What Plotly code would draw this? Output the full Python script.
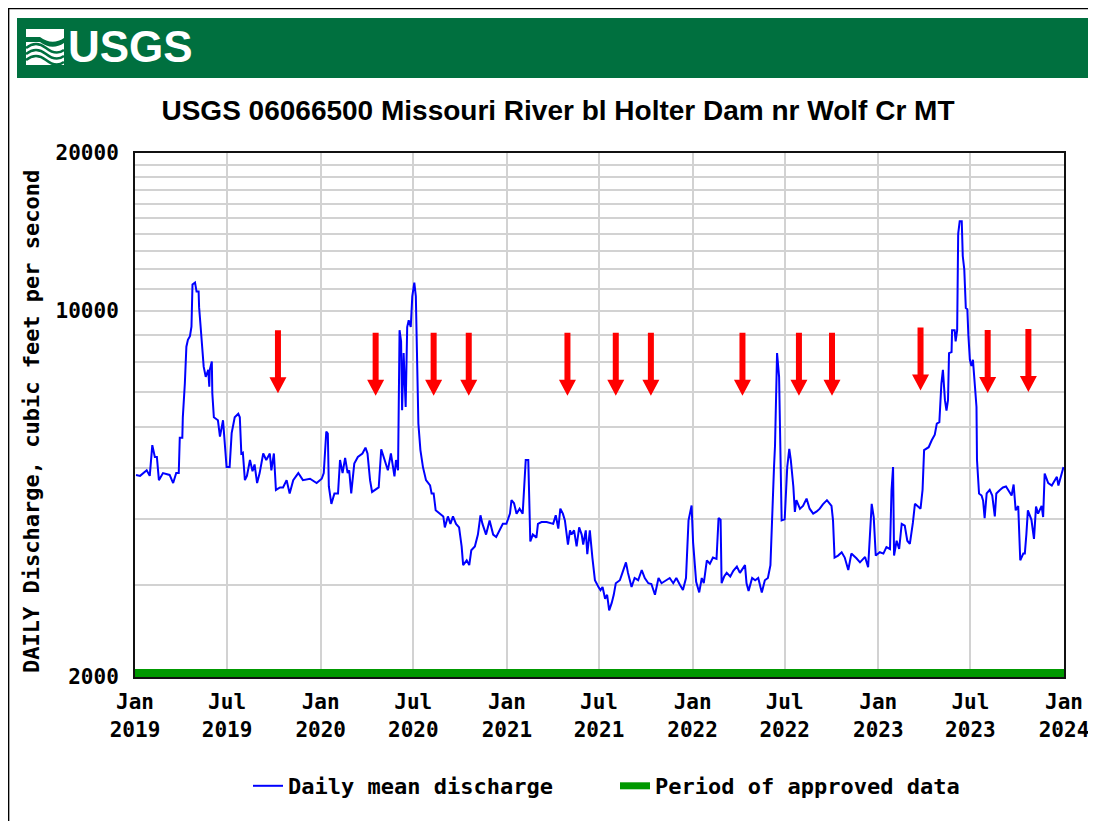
import plotly.graph_objects as go

# ---------------- data ----------------
dates_2019 = ["2019-01-03", "2019-01-11", "2019-01-24", "2019-01-30", "2019-02-04", "2019-02-09",
              "2019-02-13", "2019-02-17", "2019-02-25", "2019-03-10", "2019-03-17", "2019-03-23",
              "2019-03-28", "2019-03-30", "2019-04-04", "2019-04-05", "2019-04-09", "2019-04-12",
              "2019-04-15", "2019-04-19", "2019-04-22", "2019-04-24", "2019-04-29", "2019-05-02",
              "2019-05-06", "2019-05-07", "2019-05-10", "2019-05-13", "2019-05-16", "2019-05-20",
              "2019-05-25", "2019-05-27", "2019-05-28", "2019-06-01", "2019-06-02", "2019-06-05",
              "2019-06-13", "2019-06-17", "2019-06-23", "2019-06-30", "2019-07-06", "2019-07-10",
              "2019-07-16", "2019-07-23", "2019-07-26", "2019-07-29", "2019-08-01", "2019-08-05",
              "2019-08-09", "2019-08-15", "2019-08-20", "2019-08-24", "2019-08-29", "2019-09-03",
              "2019-09-10", "2019-09-16", "2019-09-23", "2019-09-26", "2019-10-01", "2019-10-05",
              "2019-10-13", "2019-10-19", "2019-10-26", "2019-11-01", "2019-11-08", "2019-11-18",
              "2019-11-27", "2019-12-11", "2019-12-24"]
flow_2019 = [4860, 4840, 4960, 4840, 5540, 5260,
             5260, 4750, 4900, 4860, 4690, 4900,
             4900, 5720, 5720, 6260, 7270, 8540,
             8800, 8940, 9320, 11220, 11320, 10880,
             10880, 10160, 9320, 8420, 7820, 7480,
             7710, 7160, 7710, 8000, 6950, 6260,
             6180, 5750, 6180, 5030, 5030, 5840,
             6260, 6360, 6260, 5340, 5360, 4750,
             4840, 5190, 4940, 5090, 4690, 4900,
             5340, 5190, 5340, 4960, 5340, 4550,
             4600, 4600, 4750, 4480, 4750, 4900,
             4750, 4780, 4690]

dates_2020 = ["2020-01-03", "2020-01-07", "2020-01-12", "2020-01-15", "2020-01-17", "2020-01-22",
              "2020-01-28", "2020-02-04", "2020-02-08", "2020-02-13", "2020-02-18", "2020-02-23",
              "2020-02-26", "2020-03-01", "2020-03-07", "2020-03-14", "2020-03-23", "2020-03-29",
              "2020-04-02", "2020-04-07", "2020-04-11", "2020-04-19", "2020-04-24", "2020-04-29",
              "2020-05-05", "2020-05-12", "2020-05-18", "2020-05-22", "2020-05-25", "2020-05-28",
              "2020-06-01", "2020-06-04", "2020-06-07", "2020-06-09", "2020-06-12", "2020-06-16",
              "2020-06-19", "2020-06-22", "2020-06-26", "2020-06-29", "2020-07-03", "2020-07-06",
              "2020-07-09", "2020-07-11", "2020-07-15", "2020-07-20", "2020-07-26", "2020-08-03",
              "2020-08-06", "2020-08-10", "2020-08-14", "2020-08-22", "2020-08-29", "2020-09-01",
              "2020-09-07", "2020-09-12", "2020-09-17", "2020-09-23", "2020-09-29", "2020-10-04",
              "2020-10-07", "2020-10-14", "2020-10-19", "2020-10-23", "2020-10-30", "2020-11-05",
              "2020-11-10", "2020-11-14", "2020-11-21", "2020-11-28", "2020-12-05", "2020-12-11",
              "2020-12-18", "2020-12-24", "2020-12-31"]
flow_2020 = [4780, 4900, 5880, 5830, 4620, 4280,
             4480, 4480, 5190, 4900, 5240, 4900,
             4960, 4480, 5110, 5260, 5340, 5480,
             5340, 4750, 4510, 4560, 4600, 5440,
             5190, 4960, 5340, 5030, 4830, 5190,
             4960, 9180, 8740, 6460, 8300, 6550,
             9310, 9590, 9310, 10650, 11320, 10650,
             7590, 6090, 5420, 5030, 4750, 4640,
             4480, 4480, 4160, 4100, 4050, 3860,
             4050, 3920, 4050, 3920, 3860, 3550,
             3270, 3340, 3270, 3490, 3550, 3740,
             4070, 3920, 3740, 3980, 3740, 3700,
             3810, 3920, 3920]

dates_2021 = ["2021-01-07", "2021-01-10", "2021-01-15", "2021-01-20", "2021-01-26", "2021-02-01",
              "2021-02-03", "2021-02-07", "2021-02-12", "2021-02-14", "2021-02-16", "2021-02-21",
              "2021-02-28", "2021-03-03", "2021-03-10", "2021-03-20", "2021-04-02", "2021-04-07",
              "2021-04-12", "2021-04-16", "2021-04-21", "2021-04-25", "2021-05-01", "2021-05-05",
              "2021-05-08", "2021-05-13", "2021-05-18", "2021-05-23", "2021-05-28", "2021-05-31",
              "2021-06-05", "2021-06-08", "2021-06-13", "2021-06-18", "2021-06-23", "2021-06-30",
              "2021-07-04", "2021-07-08", "2021-07-13", "2021-07-17", "2021-07-21", "2021-07-26",
              "2021-07-30", "2021-08-03", "2021-08-11", "2021-08-16", "2021-08-23", "2021-08-27",
              "2021-09-03", "2021-09-09", "2021-09-16", "2021-09-23", "2021-09-29", "2021-10-06",
              "2021-10-12", "2021-10-19", "2021-10-26", "2021-11-01", "2021-11-11", "2021-11-17",
              "2021-11-24", "2021-11-30", "2021-12-07", "2021-12-13", "2021-12-19", "2021-12-24",
              "2021-12-30"]
flow_2021 = [4100, 4350, 4290, 4100, 4190, 4100,
             4510, 5190, 5190, 4480, 3630, 3740,
             3690, 3920, 3950, 3950, 3920, 4070,
             3840, 4190, 4100, 3980, 3580, 3810,
             3740, 3810, 3550, 3860, 3740, 3580,
             3810, 3430, 3810, 3380, 3060, 2970,
             2930, 2970, 2820, 2870, 2680, 2770,
             2870, 3020, 3060, 3160, 3310, 3160,
             2970, 3090, 3060, 3200, 3090, 3020,
             3010, 2870, 3090, 3020, 3060, 3090,
             3020, 3090, 3000, 2930, 3090, 3980,
             4250]

dates_2022 = ["2022-01-02", "2022-01-08", "2022-01-14", "2022-01-19", "2022-01-23", "2022-01-29",
              "2022-02-04", "2022-02-10", "2022-02-17", "2022-02-21", "2022-02-25", "2022-02-27",
              "2022-03-04", "2022-03-09", "2022-03-16", "2022-03-22", "2022-03-29", "2022-04-04",
              "2022-04-14", "2022-04-17", "2022-04-21", "2022-04-28", "2022-05-04", "2022-05-10",
              "2022-05-17", "2022-05-23", "2022-05-29", "2022-06-03", "2022-06-07", "2022-06-10",
              "2022-06-12", "2022-06-16", "2022-06-20", "2022-06-23", "2022-06-25", "2022-07-01",
              "2022-07-06", "2022-07-10", "2022-07-13", "2022-07-18", "2022-07-21", "2022-07-24",
              "2022-07-31", "2022-08-06", "2022-08-13", "2022-08-19", "2022-08-26", "2022-09-02",
              "2022-09-08", "2022-09-14", "2022-09-22", "2022-10-01", "2022-10-04", "2022-10-07",
              "2022-10-14", "2022-10-21", "2022-10-27", "2022-11-03", "2022-11-09", "2022-11-19",
              "2022-11-26", "2022-12-06", "2022-12-12", "2022-12-19", "2022-12-23", "2022-12-27"]
flow_2022 = [3610, 3040, 2900, 3090, 3020, 3340,
             3290, 3380, 3360, 4020, 3990, 3020,
             3110, 3160, 3110, 3190, 3250, 3160,
             3270, 3020, 2920, 3090, 3060, 3090,
             2900, 3060, 3090, 3270, 4350, 5030,
             5530, 8300, 7480, 5530, 3980, 4000,
             5030, 5450, 5190, 4620, 4130, 4350,
             4190, 4240, 4380, 4190, 4100, 4140,
             4190, 4270, 4350, 4240, 3980, 3380,
             3410, 3460, 3380, 3200, 3440, 3370,
             3310, 3390, 3240, 4280, 4040, 3410]

dates_2023 = ["2023-01-04", "2023-01-11", "2023-01-17", "2023-01-24", "2023-01-27", "2023-01-30",
              "2023-02-01", "2023-02-06", "2023-02-11", "2023-02-16", "2023-02-22", "2023-02-27",
              "2023-03-04", "2023-03-10", "2023-03-14", "2023-03-25", "2023-03-29", "2023-04-01",
              "2023-04-10", "2023-04-16", "2023-04-22", "2023-04-26", "2023-05-01", "2023-05-05",
              "2023-05-08", "2023-05-12", "2023-05-15", "2023-05-18", "2023-05-20", "2023-05-25",
              "2023-05-26", "2023-05-31", "2023-06-02", "2023-06-05", "2023-06-07", "2023-06-10",
              "2023-06-14", "2023-06-16", "2023-06-19", "2023-06-22", "2023-06-25", "2023-06-27",
              "2023-06-30", "2023-07-03", "2023-07-06", "2023-07-10", "2023-07-13", "2023-07-14",
              "2023-07-18", "2023-07-23", "2023-07-26", "2023-07-29", "2023-08-02", "2023-08-08",
              "2023-08-13", "2023-08-18", "2023-08-21", "2023-08-28", "2023-09-03", "2023-09-09",
              "2023-09-13", "2023-09-20", "2023-09-24", "2023-09-28", "2023-10-03", "2023-10-07",
              "2023-10-13", "2023-10-16", "2023-10-19", "2023-10-22", "2023-10-29", "2023-11-03",
              "2023-11-07", "2023-11-11", "2023-11-18", "2023-11-21", "2023-11-24", "2023-12-01",
              "2023-12-08", "2023-12-14", "2023-12-18", "2023-12-21", "2023-12-28", "2023-12-31"]
flow_2023 = [3460, 3440, 3540, 3510, 4550, 5030,
             3410, 3640, 3510, 3920, 3890, 3640,
             3590, 3940, 4280, 4190, 4550, 5420,
             5490, 5660, 5800, 6090, 6130, 7260,
             7710, 6750, 6450, 6750, 8300, 8340,
             9180, 9180, 8740, 9180, 14020, 14820,
             14820, 12720, 11990, 10120, 10070, 9000,
             8060, 7840, 8060, 7160, 6550, 5190,
             4480, 4440, 4340, 4020, 4480, 4550,
             4440, 4050, 4480, 4550, 4600, 4620,
             4550, 4440, 4660, 4160, 4240, 3340,
             3440, 3440, 3740, 4160, 3990, 3670,
             4230, 4100, 4240, 4040, 4890, 4690,
             4640, 4740, 4820, 4640, 4890, 5030]

approved_period = ["2019-01-01", "2024-01-01"]

arrow_dates = ["2019-10-09", "2020-04-18", "2020-08-10", "2020-10-18", "2021-04-30",
               "2021-08-03", "2021-10-11", "2022-04-09", "2022-07-29", "2022-10-02",
               "2023-03-25", "2023-08-04", "2023-10-23"]
arrow_tip_flow = [6960, 6880, 6880, 6880, 6880, 6880, 6880, 6880, 6880, 6880, 7040, 6970, 7000]

x_tick_dates = ["2019-01-01", "2019-07-01", "2020-01-01", "2020-07-01", "2021-01-01", "2021-07-01",
                "2022-01-01", "2022-07-01", "2023-01-01", "2023-07-01", "2024-01-01"]
x_tick_labels = ["Jan<br>2019", "Jul<br>2019", "Jan<br>2020", "Jul<br>2020", "Jan<br>2021",
                 "Jul<br>2021", "Jan<br>2022", "Jul<br>2022", "Jan<br>2023", "Jul<br>2023",
                 "Jan<br>2024"]
y_grid_values = list(range(2000, 20001, 1000))
y_labelled = {2000: "2000", 10000: "10000", 20000: "20000"}

for d, q in [(dates_2019, flow_2019), (dates_2020, flow_2020), (dates_2021, flow_2021),
             (dates_2022, flow_2022), (dates_2023, flow_2023)]:
    assert len(d) == len(q), (len(d), len(q))

dates = dates_2019 + dates_2020 + dates_2021 + dates_2022 + dates_2023
flow = flow_2019 + flow_2020 + flow_2021 + flow_2022 + flow_2023

# ---------------- layout helpers (page pixels; the page body has an 8px margin) ----------------
OFF = 8
W, H = 1096 - OFF, 821 - OFF
L, R, T, B = 135, 1064, 153, 677


def px_x(p):
    return (p - L) / (R - L)


def px_y(p):
    return (B - p) / (B - T)


MONO = "DejaVu Sans Mono"
GREEN_HDR = "#00703f"

fig = go.Figure()
fig.add_trace(go.Scatter(x=dates, y=flow, mode="lines", name="Daily mean discharge",
                         line=dict(color="#0000ff", width=2)))
fig.add_trace(go.Scatter(x=approved_period, y=[2000, 2000], mode="lines",
                         name="Period of approved data",
                         line=dict(color="#009900", width=7)))

shapes = []
# outer border
shapes.append(dict(type="rect", xref="paper", yref="paper",
                   x0=px_x(8.6), x1=px_x(1120), y0=px_y(840), y1=px_y(8.6),
                   line=dict(color="black", width=1.5), fillcolor="rgba(0,0,0,0)", layer="below"))
# header bar
shapes.append(dict(type="rect", xref="paper", yref="paper",
                   x0=px_x(17), x1=px_x(1120), y0=px_y(78), y1=px_y(18),
                   line=dict(width=0), fillcolor=GREEN_HDR, layer="above"))
# logo icon: white block with green waves
shapes.append(dict(type="rect", xref="paper", yref="paper",
                   x0=px_x(26), x1=px_x(64), y0=px_y(65), y1=px_y(29),
                   line=dict(width=0), fillcolor="white", layer="above"))


def px_path(cmds):
    out = []
    for c in cmds:
        if isinstance(c, str):
            out.append(c)
        else:
            out.append("%.5f,%.5f" % (px_x(c[0]), px_y(c[1])))
    return " ".join(out)


shapes.append(dict(type="path", xref="paper", yref="paper", layer="above",
                   path=px_path(["M", (26, 37), "L", (40, 37), "Q", (52, 46), (64, 38),
                                 "L", (64, 43), "Q", (52, 51), (40, 42), "L", (26, 42), "Z"]),
                   fillcolor=GREEN_HDR, line=dict(width=0)))
for off in (0, 6, 12):
    shapes.append(dict(type="path", xref="paper", yref="paper", layer="above",
                       path=px_path(["M", (26, 48 + off), "Q", (36, 40 + off), (46, 48 + off),
                                     "T", (64, 50 + off)]),
                       line=dict(color=GREEN_HDR, width=2.5)))

# period of approved data bar
shapes.append(dict(type="rect", xref="x", yref="paper",
                   x0=approved_period[0], x1=approved_period[1],
                   y0=px_y(676), y1=px_y(669),
                   line=dict(width=0), fillcolor="#009900", layer="above"))

# red arrows (tip anchored at date / discharge, drawn in pixels)
ARROW = "M -3,63 L 3,63 L 3,16 L 8.5,16 L 0,0 L -8.5,16 L -3,16 Z"
for d, q in zip(arrow_dates, arrow_tip_flow):
    shapes.append(dict(type="path", xref="x", yref="y", xsizemode="pixel", ysizemode="pixel",
                       xanchor=d, yanchor=q, path=ARROW, fillcolor="#ff0000",
                       line=dict(width=0), layer="above"))

annotations = [
    dict(text="<b>USGS</b>", xref="paper", yref="paper", x=px_x(66), y=px_y(47),
         xanchor="left", yanchor="middle", showarrow=False,
         font=dict(family="Liberation Sans Narrow, Liberation Sans, Arial", size=44, color="white")),
    dict(text="DAILY Discharge, cubic feet per second", xref="paper", yref="paper",
         x=px_x(32), y=px_y(422), xanchor="center", yanchor="middle", textangle=-90,
         showarrow=False, font=dict(family=MONO, size=22, color="black", weight="bold")),
]

fig.update_layout(
    width=W, height=H,
    margin=dict(l=L - OFF, r=(OFF + W) - R, t=T - OFF, b=(OFF + H) - B, pad=0,
                autoexpand=False),
    paper_bgcolor="white", plot_bgcolor="white",
    title=dict(text="USGS 06066500 Missouri River bl Holter Dam nr Wolf Cr MT",
               x=(558 - OFF) / W, xanchor="center", y=1 - (110 - OFF) / H, yanchor="middle",
               font=dict(family="Liberation Sans, Arial", size=28, color="black", weight="bold")),
    shapes=shapes,
    annotations=annotations,
    showlegend=True,
    legend=dict(orientation="h", x=px_x(248), y=px_y(765), xanchor="left", yanchor="top",
                font=dict(family=MONO, size=22, color="black", weight="bold"),
                bgcolor="rgba(0,0,0,0)", entrywidth=322, entrywidthmode="pixels",
                traceorder="normal"),
)
fig.update_xaxes(type="date", range=[approved_period[0], approved_period[1]],
                 tickmode="array", tickvals=x_tick_dates, ticktext=x_tick_labels,
                 tickfont=dict(family=MONO, size=21, color="black", weight="bold"),
                 ticks="", ticklabelstandoff=5,
                 showgrid=True, gridcolor="#d2d2d2", gridwidth=2,
                 showline=True, linecolor="#111111", linewidth=2, mirror=True, zeroline=False)
fig.update_yaxes(type="log", range=[3.30103, 4.30103],
                 tickmode="array", tickvals=y_grid_values,
                 ticktext=[y_labelled.get(v, "") for v in y_grid_values],
                 tickfont=dict(family=MONO, size=21, color="black", weight="bold"),
                 ticks="", ticklabelstandoff=10,
                 showgrid=True, gridcolor="#d2d2d2", gridwidth=2,
                 showline=True, linecolor="#111111", linewidth=2, mirror=True, zeroline=False)

fig.write_html("out.html")
